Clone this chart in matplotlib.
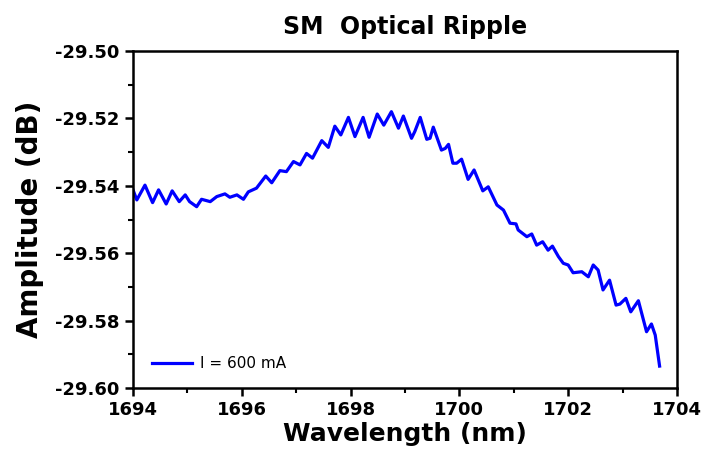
import matplotlib
matplotlib.use("Agg")
import matplotlib.pyplot as plt
from matplotlib.ticker import MultipleLocator, FormatStrFormatter

wavelength = [1694.00, 1694.07, 1694.22, 1694.36, 1694.47, 1694.61, 1694.72, 1694.85, 1694.96, 1695.04,
              1695.17, 1695.26, 1695.42, 1695.54, 1695.69, 1695.78, 1695.91, 1696.03, 1696.12, 1696.27,
              1696.44, 1696.55, 1696.70, 1696.82, 1696.95, 1697.07, 1697.19, 1697.30, 1697.47, 1697.59,
              1697.71, 1697.82, 1697.96, 1698.08, 1698.23, 1698.34, 1698.49, 1698.61, 1698.75, 1698.88,
              1698.97, 1699.12, 1699.18, 1699.28, 1699.40, 1699.46, 1699.52, 1699.67, 1699.74, 1699.80,
              1699.88, 1699.95, 1700.04, 1700.16, 1700.27, 1700.43, 1700.53, 1700.69, 1700.81, 1700.93,
              1701.04, 1701.08, 1701.24, 1701.33, 1701.42, 1701.53, 1701.63, 1701.71, 1701.82, 1701.91,
              1702.00, 1702.09, 1702.25, 1702.37, 1702.46, 1702.55, 1702.64, 1702.76, 1702.88, 1702.95,
              1703.06, 1703.15, 1703.29, 1703.44, 1703.53, 1703.60, 1703.68]
amplitude = [-29.5412, -29.5442, -29.5398, -29.5450, -29.5412, -29.5454, -29.5415, -29.5447, -29.5427, -29.5447,
             -29.5462, -29.5440, -29.5447, -29.5432, -29.5424, -29.5434, -29.5427, -29.5440, -29.5418, -29.5407,
             -29.5371, -29.5391, -29.5355, -29.5358, -29.5328, -29.5338, -29.5304, -29.5318, -29.5266, -29.5286,
             -29.5223, -29.5249, -29.5197, -29.5254, -29.5197, -29.5256, -29.5187, -29.5220, -29.5180, -29.5229,
             -29.5193, -29.5259, -29.5239, -29.5197, -29.5262, -29.5259, -29.5226, -29.5294, -29.5289, -29.5277,
             -29.5333, -29.5333, -29.5321, -29.5381, -29.5353, -29.5415, -29.5403, -29.5457, -29.5472, -29.5511,
             -29.5513, -29.5531, -29.5551, -29.5543, -29.5576, -29.5566, -29.5591, -29.5579, -29.5610, -29.5630,
             -29.5635, -29.5658, -29.5655, -29.5670, -29.5635, -29.5650, -29.5709, -29.5680, -29.5754, -29.5751,
             -29.5734, -29.5774, -29.5741, -29.5833, -29.5810, -29.5843, -29.5935]
series_label = "I = 600 mA"
title = "SM  Optical Ripple"
xlabel = "Wavelength (nm)"
ylabel = "Amplitude (dB)"

plt.rcParams['font.family'] = ['DejaVu Sans']
fig = plt.figure(figsize=(7.02, 4.57), dpi=100)
ax = fig.add_axes([133/702, 1-388/457, (677-133)/702, (388-51)/457])

ax.plot(wavelength, amplitude, color='#0000FF', lw=2.3, label=series_label)

ax.set_xlim(1694, 1704)
ax.set_ylim(-29.60, -29.50)
ax.xaxis.set_major_locator(MultipleLocator(2))
ax.xaxis.set_minor_locator(MultipleLocator(1))
ax.yaxis.set_major_locator(MultipleLocator(0.02))
ax.yaxis.set_minor_locator(MultipleLocator(0.01))
ax.yaxis.set_major_formatter(FormatStrFormatter('%.2f'))

for s in ax.spines.values():
    s.set_linewidth(1.8)
ax.tick_params(which='major', direction='out', length=6, width=1.8, labelsize=13)
ax.tick_params(which='minor', direction='out', length=3.5, width=1.5)
for lab in ax.get_xticklabels() + ax.get_yticklabels():
    lab.set_fontweight('bold')

ax.set_title(title, fontsize=17, fontweight='bold', pad=12)
ax.set_xlabel(xlabel, fontsize=18, fontweight='bold', labelpad=2)
ax.set_ylabel(ylabel, fontsize=20, fontweight='bold', labelpad=8)

ax.legend(loc='lower left', frameon=False, fontsize=11, handlelength=2.6,
          handletextpad=0.5, bbox_to_anchor=(0.01, 0.01))

fig.savefig('out.png', dpi=100)
